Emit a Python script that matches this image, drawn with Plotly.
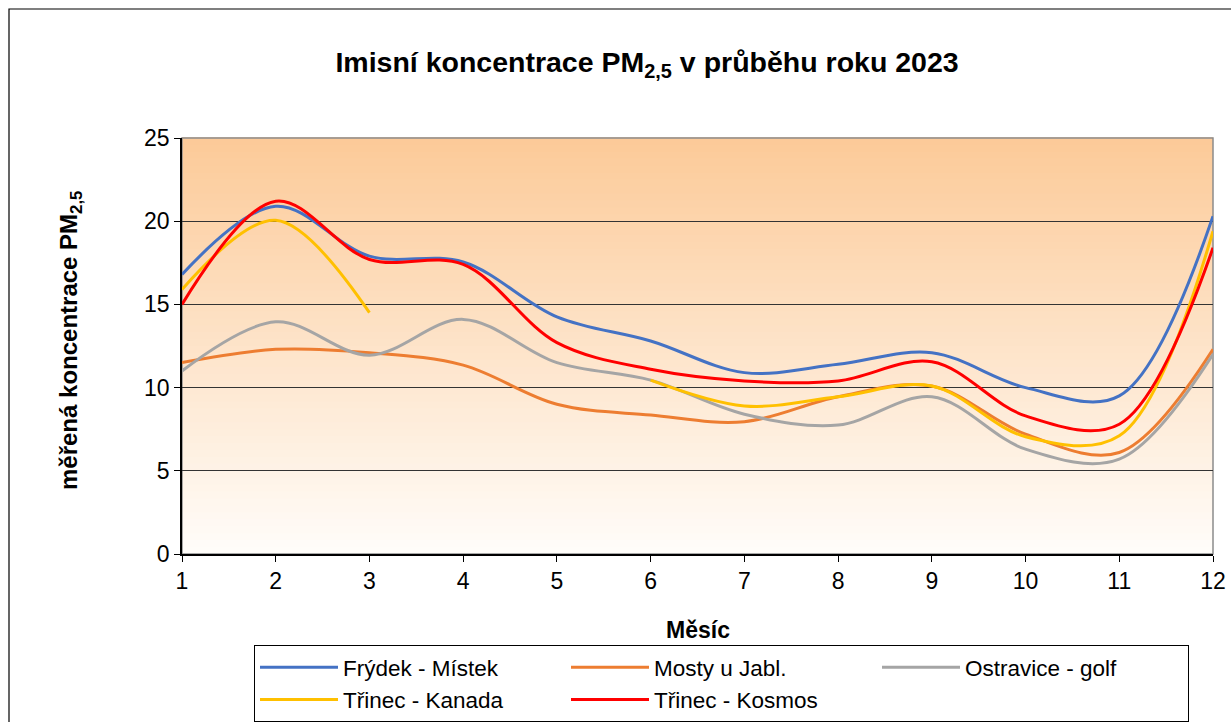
import plotly.graph_objects as go

months = [1, 2, 3, 4, 5, 6, 7, 8, 9, 10, 11, 12]
month_labels = ["1", "2", "3", "4", "5", "6", "7", "8", "9", "10", "11", "12"]

frydek_mistek = [16.8, 20.9, 17.9, 17.55, 14.25, 12.8, 10.9, 11.4, 12.1, 10.0, 9.5, 20.3]
mosty_u_jabl = [11.5, 12.3, 12.1, 11.35, 9.0, 8.35, 7.95, 9.45, 10.1, 7.2, 6.1, 12.3]
ostravice_golf = [11.0, 13.95, 11.95, 14.1, 11.5, 10.45, 8.4, 7.75, 9.45, 6.3, 5.7, 12.0]
trinec_kanada = [15.9, 20.05, 14.5, None, None, 10.45, 8.9, 9.45, 10.1, 7.05, 7.1, 19.4]
trinec_kosmos = [15.0, 21.2, 17.7, 17.4, 12.7, 11.1, 10.4, 10.4, 11.55, 8.3, 7.8, 18.4]

series = [
    ("Frýdek - Místek", frydek_mistek, "#4472C4"),
    ("Mosty u Jabl.", mosty_u_jabl, "#ED7D31"),
    ("Ostravice - golf", ostravice_golf, "#A5A5A5"),
    ("Třinec - Kanada", trinec_kanada, "#FFC000"),
    ("Třinec - Kosmos", trinec_kosmos, "#FF0000"),
]

y_ticks = [0, 5, 10, 15, 20, 25]

FONT = "Liberation Sans, Arial, sans-serif"

# plot-area geometry in pixels (for paper-coordinate conversion of decorations)
PL, PR, PT, PB = 182, 1213, 138, 554
PW, PH = PR - PL, PB - PT


def px_x(px):
    return (px - PL) / PW


def px_y(py):
    return (PB - py) / PH


fig = go.Figure()
for name, vals, color in series:
    fig.add_trace(go.Scatter(
        x=months, y=vals, name=name, mode="lines",
        line=dict(color=color, width=3, shape="spline", smoothing=1.0),
        connectgaps=False,
    ))

# gradient background of plot area (orange top -> white bottom)
shapes = []
N = 60
top = (252, 202, 152)
bot = (255, 253, 250)
for i in range(N):
    t = (i + 0.5) / N  # 0 bottom -> 1 top
    c = tuple(round(bot[k] + (top[k] - bot[k]) * t) for k in range(3))
    shapes.append(dict(type="rect", xref="x domain", yref="y domain",
                       x0=0, x1=1, y0=i / N, y1=(i + 1) / N + 0.002,
                       fillcolor="rgb(%d,%d,%d)" % c, line=dict(width=0),
                       layer="below"))
# plot area border (gray)
shapes.append(dict(type="rect", xref="x domain", yref="y domain",
                   x0=0, x1=1, y0=0, y1=1, line=dict(color="#8C8C8C", width=1.5),
                   fillcolor="rgba(0,0,0,0)", layer="below"))
# outer chart border
shapes.append(dict(type="rect", xref="paper", yref="paper",
                   x0=px_x(9), x1=px_x(1245), y0=px_y(745), y1=px_y(9),
                   line=dict(color="#000000", width=1.2),
                   fillcolor="rgba(0,0,0,0)", layer="below"))

fig.update_layout(
    width=1231, height=722,
    margin=dict(l=PL, r=1231 - PR, t=PT, b=722 - PB, autoexpand=False),
    paper_bgcolor="white",
    plot_bgcolor="rgba(0,0,0,0)",
    font=dict(family=FONT, color="#000000"),
    title=dict(text="<b>Imisní koncentrace PM<sub>2,5</sub> v průběhu roku 2023</b>",
               x=647 / 1231, xref="container", xanchor="center",
               y=1 - 62 / 722, yref="container", yanchor="middle",
               font=dict(size=28.5, family=FONT, color="#000000")),
    shapes=shapes,
    showlegend=True,
    legend=dict(orientation="h", x=px_x(254), xanchor="left",
                y=px_y(645), yanchor="top",
                bgcolor="white", bordercolor="#000000", borderwidth=1,
                font=dict(size=22.5, family=FONT, color="#000000"),
                entrywidth=218, entrywidthmode="pixels",
                itemwidth=78, tracegroupgap=0),
    annotations=[
        dict(text="<b>Měsíc</b>", xref="paper", yref="paper",
             x=0.5, y=px_y(630), xanchor="center", yanchor="middle",
             showarrow=False, font=dict(size=23, family=FONT, color="#000000")),
        dict(text="<b>měřená koncentrace PM<sub>2,5</sub></b>", xref="paper", yref="paper",
             x=px_x(70), y=px_y(341), xanchor="center", yanchor="middle",
             textangle=-90, showarrow=False,
             font=dict(size=24, family=FONT, color="#000000")),
    ],
)

fig.update_xaxes(
    range=[1, 12], tickmode="array", tickvals=months, ticktext=month_labels,
    showgrid=False, zeroline=False,
    showline=True, linecolor="#000000", linewidth=1.5,
    ticks="outside", ticklen=6, tickcolor="#000000", tickwidth=1.2,
    tickfont=dict(size=23, family=FONT, color="#000000"),
)
fig.update_yaxes(
    range=[0, 25], tickmode="array", tickvals=y_ticks,
    showgrid=True, gridcolor="#333333", gridwidth=1.3, zeroline=False,
    showline=True, linecolor="#000000", linewidth=1.5,
    ticks="outside", ticklen=6, tickcolor="#000000", tickwidth=1.2,
    tickfont=dict(size=23, family=FONT, color="#000000"),
)

fig.write_html(
    "out.html",
    config={"displayModeBar": False},
    post_script="document.body.style.margin='0';document.body.style.overflow='hidden';",
)
